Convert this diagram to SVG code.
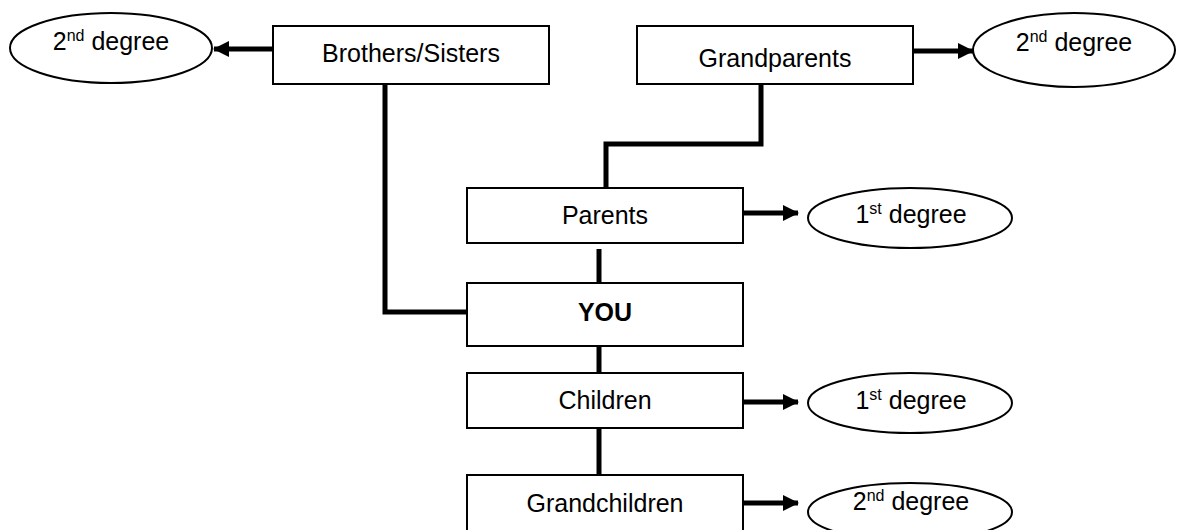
<svg xmlns="http://www.w3.org/2000/svg" width="1177" height="530" viewBox="0 0 1177 530">
<style>
.box{fill:#fff;stroke:#000;stroke-width:2}
.ell{fill:#fff;stroke:#000;stroke-width:2}
.t{font-family:"Liberation Sans",Arial,sans-serif;font-size:25px;fill:#000;text-anchor:middle}
.b{font-weight:bold}
.sup{font-size:16px}
.c{fill:none;stroke:#000;stroke-width:5}
</style>
<defs>
<marker id="ah" markerUnits="userSpaceOnUse" markerWidth="16" markerHeight="16" refX="15" refY="8" orient="auto">
<path d="M0,0 L16,8 L0,16 Z" fill="#000"/>
</marker>
</defs>
<rect width="1177" height="530" fill="#fff"/>
<g id="connectors">
<path class="c" d="M273,49 H214" marker-end="url(#ah)"/>
<path class="c" d="M913,51 H973" marker-end="url(#ah)"/>
<path class="c" d="M385,84 V312 H467"/>
<path class="c" d="M761,84 V144 H606 V188"/>
<path class="c" d="M599,249 V283"/>
<path class="c" d="M599,346 V373"/>
<path class="c" d="M599,428 V475"/>
<path class="c" d="M743,213 H798" marker-end="url(#ah)"/>
<path class="c" d="M743,402 H798" marker-end="url(#ah)"/>
<path class="c" d="M743,503 H798" marker-end="url(#ah)"/>
</g>
<g id="brothers">
<rect class="box" x="273" y="26" width="276" height="58"/>
<text class="t" x="411" y="62">Brothers/Sisters</text>
</g>
<g id="grandparents">
<rect class="box" x="637" y="26" width="276" height="58"/>
<text class="t" x="775" y="67">Grandparents</text>
</g>
<g id="parents">
<rect class="box" x="467" y="188" width="276" height="55"/>
<text class="t" x="605" y="224">Parents</text>
</g>
<g id="you">
<rect class="box" x="467" y="283" width="276" height="63"/>
<text class="t b" x="605" y="321">YOU</text>
</g>
<g id="children">
<rect class="box" x="467" y="373" width="276" height="55"/>
<text class="t" x="605" y="409">Children</text>
</g>
<g id="grandchildren">
<rect class="box" x="467" y="475" width="276" height="60"/>
<text class="t" x="605" y="512">Grandchildren</text>
</g>
<g id="deg-siblings">
<ellipse class="ell" cx="111" cy="48" rx="101" ry="35"/>
<text class="t" x="111" y="50">2<tspan class="sup" dy="-9">nd</tspan><tspan dy="9"> degree</tspan></text>
</g>
<g id="deg-grandparents">
<ellipse class="ell" cx="1074" cy="50" rx="101" ry="37"/>
<text class="t" x="1074" y="51">2<tspan class="sup" dy="-9">nd</tspan><tspan dy="9"> degree</tspan></text>
</g>
<g id="deg-parents">
<ellipse class="ell" cx="910" cy="218" rx="102" ry="30"/>
<text class="t" x="911" y="223">1<tspan class="sup" dy="-9">st</tspan><tspan dy="9"> degree</tspan></text>
</g>
<g id="deg-children">
<ellipse class="ell" cx="910" cy="403" rx="102" ry="30"/>
<text class="t" x="911" y="409">1<tspan class="sup" dy="-9">st</tspan><tspan dy="9"> degree</tspan></text>
</g>
<g id="deg-grandchildren">
<ellipse class="ell" cx="910" cy="512" rx="102" ry="29"/>
<text class="t" x="911" y="510">2<tspan class="sup" dy="-9">nd</tspan><tspan dy="9"> degree</tspan></text>
</g>
</svg>
